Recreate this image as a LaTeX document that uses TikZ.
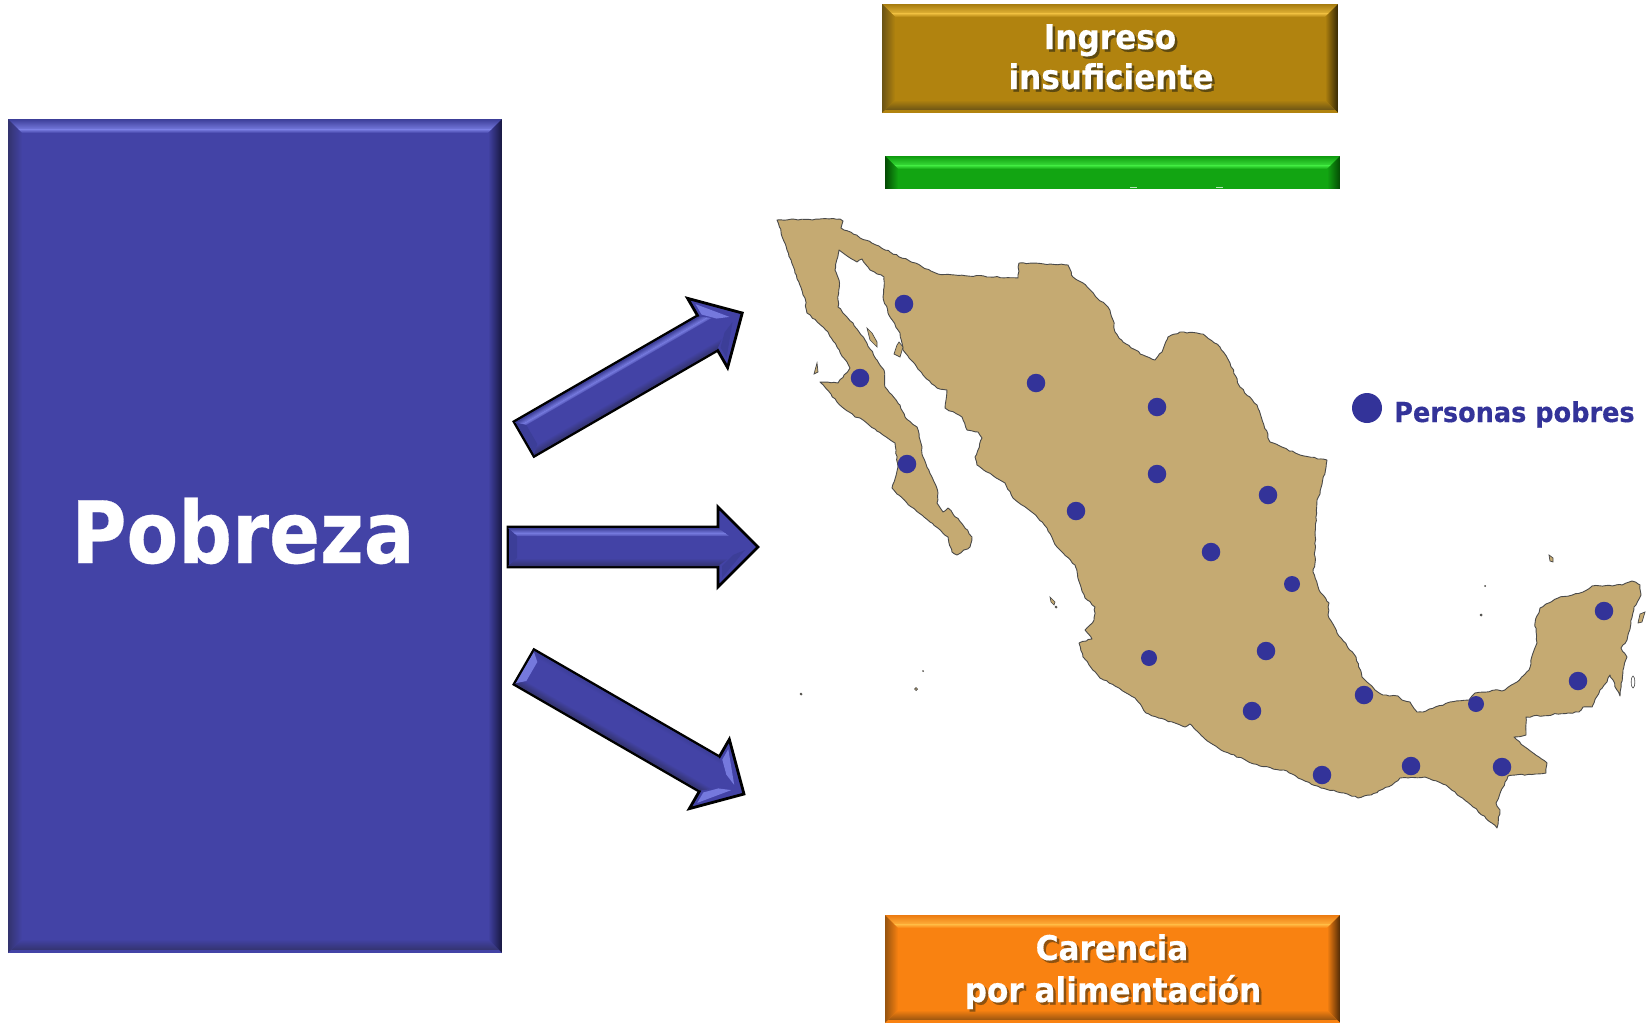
\documentclass[tikz,border=0pt]{standalone}
\usepackage{fontspec}
\setmainfont[FakeStretch=0.93,BoldFeatures={FakeBold=0.35}]{DejaVu Sans}
\usetikzlibrary{calc,decorations.pathmorphing}
\definecolor{bluebase}{HTML}{4343A6}
\definecolor{bluelight}{HTML}{7579DD}
\definecolor{bluemid}{HTML}{3C3E98}
\definecolor{bluedark}{HTML}{17173F}
\definecolor{bluelow}{HTML}{33336E}
\definecolor{goldbase}{HTML}{B1830F}
\definecolor{goldlight}{HTML}{E5B538}
\definecolor{goldmid}{HTML}{A67B0E}
\definecolor{golddark}{HTML}{352805}
\definecolor{goldlow}{HTML}{6A5315}
\definecolor{goldshade}{HTML}{5E4A10}
\definecolor{greenbase}{HTML}{12A512}
\definecolor{greenlight}{HTML}{3AE03A}
\definecolor{greenmid}{HTML}{0E9A0E}
\definecolor{greendark}{HTML}{044A04}
\definecolor{orangebase}{HTML}{F98211}
\definecolor{orangelight}{HTML}{FFB23C}
\definecolor{orangemid}{HTML}{EC7A10}
\definecolor{orangedark}{HTML}{4F2A06}
\definecolor{orangelow}{HTML}{96530F}
\definecolor{orangeshade}{HTML}{8E5210}
\definecolor{mapfill}{HTML}{C5AA72}
\definecolor{mapline}{HTML}{4A4A4A}
\definecolor{dotblue}{HTML}{333399}
\definecolor{greentip}{HTML}{B5E6B5}
% label with a hard drop shadow set in the same node: #1 shadow colour, #2 text
\newcommand{\shadowedtext}[2]{\leavevmode\rlap{\kern2.5pt\raisebox{-2.5pt}{\textcolor{#1}{#2}}}#2}
% #1 x0, #2 y0, #3 x1, #4 y1, #5 prefix of colours, #6 bevel
\newcommand{\bevelbox}[6]{%
  \fill[#5base] (#1,#2) rectangle (#3,#4);
  \begin{scope}
    \clip (#1,#2) -- (#3,#2) -- ({#3-#6},{#2+#6}) -- ({#1+#6},{#2+#6}) -- cycle;
    \shade[top color=#5mid,bottom color=#5light] (#1,#2) rectangle (#3,{#2+0.75*#6});
    \shade[top color=#5light,bottom color=#5base] (#1,{#2+0.75*#6}) rectangle (#3,{#2+#6});
  \end{scope}
  \begin{scope}
    \clip (#3,#2) -- (#3,#4) -- ({#3-#6},{#4-#6}) -- ({#3-#6},{#2+#6}) -- cycle;
    \shade[left color=#5base,right color=#5dark] ({#3-#6},#2) rectangle (#3,#4);
  \end{scope}
  \begin{scope}
    \clip (#1,#2) -- (#1,#4) -- ({#1+#6},{#4-#6}) -- ({#1+#6},{#2+#6}) -- cycle;
    \shade[left color=#5low,right color=#5base] (#1,#2) rectangle ({#1+#6},#4);
  \end{scope}
  \begin{scope}
    \clip (#1,#4) -- (#3,#4) -- ({#3-#6},{#4-#6}) -- ({#1+#6},{#4-#6}) -- cycle;
    \shade[top color=#5base,bottom color=#5low] (#1,{#4-#6}) rectangle (#3,{#4-0.2*#6});
    \fill[#5base] (#1,{#4-0.2*#6}) rectangle (#3,#4);
  \end{scope}
}
\colorlet{greenlow}{greendark}
% block arrow: #1 origin, #2 rotation, #3 length, #4 colour of upper bevel middle,
% #5 colour of tail bevel, #6 upper head highlight, #7 lower head highlight
\newcommand{\blockarrow}[7]{%
  \begin{scope}[transform canvas={shift={#1},rotate=#2}]
    \def\LL{#3}
    \pgfmathsetmacro{\NK}{\LL-40}
    \pgfmathsetmacro{\IA}{\LL-29}
    \pgfmathsetmacro{\IB}{\LL-14}
    \path[fill=bluebase,draw=black,line width=2.8pt,line join=miter,miter limit=8]
      (0,-20) -- (\NK,-20) -- (\NK,-40) -- (\LL,0) -- (\NK,40) -- (\NK,20) -- (0,20) -- cycle;
    \begin{scope}
      \clip (0,-19) -- (\NK,-19) -- (\IA,-11) -- (9,-11) -- cycle;
      \shade[top color=bluemid,bottom color=#4] (0,-19) rectangle (\LL,-14);
      \shade[top color=#4,bottom color=bluebase] (0,-14) rectangle (\LL,-10);
    \end{scope}
    \begin{scope}
      \clip (0,19) -- (\NK,19) -- (\IA,11) -- (9,11) -- cycle;
      \shade[top color=bluebase,bottom color=bluelow] (0,11) rectangle (\LL,19);
    \end{scope}
    \fill[#5] (1,-18) -- (9,-11) -- (9,11) -- (1,18) -- cycle;
    \fill[#6] (\NK+4,-31) -- (\LL-13,-3) -- (\IA+4,-8) -- (\NK+4,-19) -- cycle;
    \fill[#7] (\NK+4,31) -- (\LL-13,3) -- (\IA+4,8) -- (\NK+4,19) -- cycle;
  \end{scope}
}
\tikzset{
  boxlabel/.style={font=\bfseries\fontsize{34}{34}\selectfont,text=white,inner sep=0pt,anchor=base,xscale=0.985},
  povdot/.style={circle,fill=dotblue,inner sep=0pt,minimum size=#1},
  povdot/.default=18.5pt,
  coast/.style={fill=mapfill,draw=mapline,line width=0.9pt,line join=round,
    decorate,decoration={random steps,segment length=3.5pt,amplitude=0.7pt}},
  speck/.style={fill=mapfill,draw=mapline,line width=0.7pt}
}
\begin{document}
\begin{tikzpicture}[x=1pt,y=-1pt]
\useasboundingbox (0,0) rectangle (1649,1023);
\fill[white] (0,0) rectangle (1649,1023);
\pgfmathsetseed{7}

% left box
\bevelbox{8}{119}{502}{953}{blue}{14}
\node[font=\bfseries\fontsize{86}{86}\selectfont,text=white,inner sep=0pt,anchor=base,xscale=0.94] (pobreza) at (243,563) {Pobreza};

% right boxes
\bevelbox{882}{4}{1338}{113}{gold}{13}
\bevelbox{885}{915}{1340}{1023}{orange}{13}
\begin{scope}
  \clip (885,156) rectangle (1340,188);
  \bevelbox{885}{156}{1340}{264}{green}{13}
  \fill[greentip] (1130,186.5) rectangle (1137,188);
  \fill[greentip] (1216,186.5) rectangle (1223,188);
\end{scope}

\node[boxlabel] (t1) at (1110,49) {\shadowedtext{goldshade}{Ingreso}};
\node[boxlabel] (t2) at (1111,89) {\shadowedtext{goldshade}{insuficiente}};
\node[boxlabel] (t3) at (1112,960) {\shadowedtext{orangeshade}{Carencia}};
\node[boxlabel] (t4) at (1113,1002) {\shadowedtext{orangeshade}{por alimentación}};

% arrows
\blockarrow{(524,439)}{30}{252}{bluelight}{bluemid}{bluelight}{bluemid}
\blockarrow{(508,547)}{0}{250}{bluelight}{bluemid}{bluebase}{bluemid}
\blockarrow{(524,667)}{-30}{254}{bluebase}{bluelight}{bluelight}{bluelight}

% map
\path[coast] (777,220) -- (840,219) -- (843,221) -- (841,228) -- (890,252) -- (938,274) -- (1018,278) -- (1019,263) -- (1068,265) -- (1073,277) -- (1083,283) -- (1097,298) -- (1108,307) -- (1113,320) -- (1115,332) -- (1123,342) -- (1143,355) -- (1155,360) -- (1162,352) -- (1168,337) -- (1180,332) -- (1203,334) -- (1220,347) -- (1230,363) -- (1240,387) -- (1257,405) -- (1270,442) -- (1300,455) -- (1327,460) -- (1320,494) -- (1317,500) -- (1315,533) -- (1315,563) -- (1313,572) -- (1319,590) -- (1329,603) -- (1328,615) -- (1337,633) -- (1356,657) -- (1362,677) -- (1375,690) -- (1383,695) -- (1398,696) -- (1402,700) -- (1410,702) -- (1417,712) -- (1423,712) -- (1450,702) -- (1469,700) -- (1475,693) -- (1498,690) -- (1502,691) -- (1517,682) -- (1529,670) -- (1533,653) -- (1537,643) -- (1535,623) -- (1540,608) -- (1558,598) -- (1583,592) -- (1592,586) -- (1622,585) -- (1632,581) -- (1640,585) -- (1641,595) -- (1634,607) -- (1631,623) -- (1627,640) -- (1621,648) -- (1627,657) -- (1623,670) -- (1620,696) -- (1610,675) -- (1607,682) -- (1600,690) -- (1592,707) -- (1583,707) -- (1579,712) -- (1526,717) -- (1526,735) -- (1514,737) -- (1525,747) -- (1539,757) -- (1547,763) -- (1546,773) -- (1508,776) -- (1496,803) -- (1500,810) -- (1497,828) -- (1471,805) -- (1446,785) -- (1425,777) -- (1400,778) -- (1392,785) -- (1371,795) -- (1358,798) -- (1344,793) -- (1321,788) -- (1298,778) -- (1287,771) -- (1260,766) -- (1221,750) -- (1204,738) -- (1190,724) -- (1185,727) -- (1146,713) -- (1135,698) -- (1119,688) -- (1100,678) -- (1083,657) -- (1079,643) -- (1092,639) -- (1085,630) -- (1094,620) -- (1095,607) -- (1085,598) -- (1081,587) -- (1075,565) -- (1057,547) -- (1047,528) -- (1033,513) -- (1013,498) -- (1005,483) -- (977,465) -- (975,457) -- (982,438) -- (978,432) -- (967,430) -- (962,417) -- (945,408) -- (947,390) -- (937,388) -- (923,375) -- (903,350) -- (900,333) -- (888,313) -- (883,297) -- (884,277) -- (870,270) -- (862,259) -- (857,262) -- (843,253) -- (839,250) -- (835,270) -- (839,280) -- (838,307) -- (853,323) -- (865,340) -- (877,360) -- (884,370) -- (885,387) -- (900,405) -- (905,417) -- (917,427) -- (922,447) -- (923,457) -- (932,477) -- (938,493) -- (937,503) -- (943,512) -- (948,508) -- (963,525) -- (972,537) -- (970,547) -- (957,555) -- (952,552) -- (948,537) -- (930,522) -- (907,503) -- (892,488) -- (898,467) -- (895,443) -- (883,435) -- (860,418) -- (855,417) -- (837,402) -- (820,382) -- (838,383) -- (850,368) -- (828,332) -- (807,313) -- (805,298) -- (795,273) -- (787,250) -- cycle;
% islands
\path[speck] (867,328) -- (872,333) -- (877,342) -- (877,347) -- (870,340) -- cycle;
\path[speck] (899,342) -- (903,347) -- (900,357) -- (894,354) -- (897,345) -- cycle;
\path[speck] (817,363) -- (818,372) -- (814,374) -- cycle;
\path[speck] (1050,597) -- (1055,602) -- (1054,605) -- (1051,602) -- cycle;
\path[speck] (1549,555) -- (1553,558) -- (1553,562) -- (1550,561) -- cycle;
\path[speck] (1640,614) -- (1645,612) -- (1642,622) -- (1638,623) -- cycle;
\path[draw=mapline,line width=0.6pt] (1633,682) ellipse (1.8pt and 6pt);
\path[speck] (1056,607) circle (1pt);
\path[speck] (1481,615) circle (1pt);
\path[speck] (1485,586) circle (0.5pt);
\path[speck] (801,694) circle (1pt);
\path[speck] (916,689) circle (1.5pt);
\path[speck] (923,671) circle (0.5pt);

% dots
\foreach \n/\x/\y/\s in {a/904/304/18.5pt,b/860/378/18.5pt,c/907/464/18.5pt,d/1036/383/18.5pt,e/1157/407/18.5pt,f/1157/474/18.5pt,g/1076/511/18.5pt,h/1211/552/18.5pt,i/1268/495/18.5pt,j/1292/584/16pt,k/1266/651/18.5pt,l/1149/658/16pt,m/1252/711/18.5pt,n/1364/695/18.5pt,o/1476/704/16pt,p/1604/611/18.5pt,q/1578/681/18.5pt,r/1411/766/18.5pt,s/1502/767/18.5pt,u/1322/775/18.5pt}
  \node[povdot=\s] (dot\n) at (\x,\y) {};

% legend
\node[povdot=30pt] (legdot) at (1367,408) {};
\node[font=\bfseries\fontsize{27.5}{27.5}\selectfont,text=dotblue,inner sep=0pt,anchor=base west] (legend) at (1394,422) {Personas pobres};
\end{tikzpicture}
\end{document}
